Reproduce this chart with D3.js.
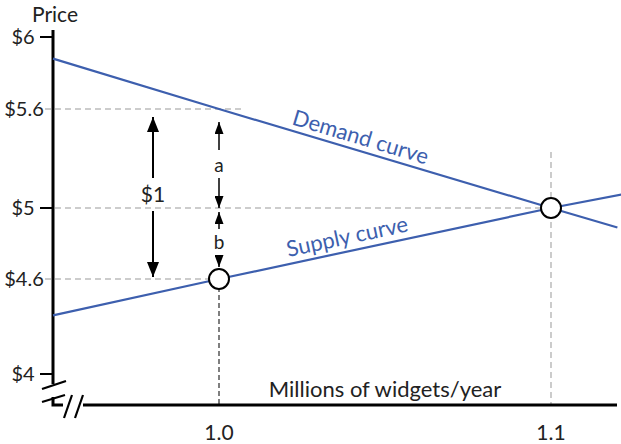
<!DOCTYPE html>
<html>
<head>
<meta charset="utf-8">
<script src="https://cdn.jsdelivr.net/npm/d3@7"></script>
<style>
  html, body { margin: 0; padding: 0; background: #fff; }
  svg { display: block; }
  text { font-family: Lato, "Open Sans", sans-serif; }
</style>
</head>
<body>
<svg id="chart" width="621" height="444"></svg>
<script>
// ---- data ----
const demandQuantity = [0.95, 1.0, 1.1, 1.12];
const demandPrice    = [5.88, 5.6, 5.0, 4.89];
const supplyQuantity = [0.95, 1.0, 1.1, 1.122];
const supplyPrice    = [4.37, 4.6, 5.0, 5.085];
const priceTicks      = [4, 4.6, 5, 5.6, 6];
const priceTickLabels = ["$4", "$4.6", "$5", "$5.6", "$6"];
const quantityTicks      = [1.0, 1.1];
const quantityTickLabels = ["1.0", "1.1"];
const equilibriumQuantity = [1.0, 1.1];
const equilibriumPrice    = [4.6, 5.0];

// ---- setup ----
const svg = d3.select("#chart");
const x = d3.scaleLinear().domain([1.0, 1.1]).range([219, 551]);
const y = d3.scaleLinear().domain([4, 4.6, 5, 5.6, 6]).range([374, 279, 208, 109, 37]);
const axisX = 53, axisBottom = 405;
const blue = "#3d5fae";
const ink = "#222";

// arrow markers
const defs = svg.append("defs");
function marker(id, w, l) {
  defs.append("marker").attr("id", id)
    .attr("viewBox", `0 0 ${l} ${w}`).attr("refX", l).attr("refY", w / 2)
    .attr("markerWidth", l).attr("markerHeight", w).attr("markerUnits", "userSpaceOnUse")
    .attr("orient", "auto-start-reverse")
    .append("path").attr("d", `M0,0 L${l},${w/2} L0,${w} Z`).attr("fill", "#000");
}
marker("big", 12, 15);
marker("small", 9, 12);

// ---- dashed guide lines ----
const guides = svg.append("g");
guides.append("line").attr("x1", 45).attr("x2", 243).attr("y1", y(5.6)).attr("y2", y(5.6))
  .attr("stroke", "#999").attr("stroke-width", 1.2).attr("stroke-dasharray", "6,4");
guides.append("line").attr("x1", axisX + 2).attr("x2", x(1.1)).attr("y1", y(5)).attr("y2", y(5))
  .attr("stroke", "#999").attr("stroke-width", 1.2).attr("stroke-dasharray", "6,4");
guides.append("line").attr("x1", 45).attr("x2", x(1.0)).attr("y1", y(4.6)).attr("y2", y(4.6))
  .attr("stroke", "#999").attr("stroke-width", 1.2).attr("stroke-dasharray", "6,4");
guides.append("line").attr("x1", x(1.1)).attr("x2", x(1.1)).attr("y1", 152).attr("y2", axisBottom)
  .attr("stroke", "#aaa").attr("stroke-width", 1.2).attr("stroke-dasharray", "6,4");
guides.append("line").attr("x1", x(1.0)).attr("x2", x(1.0)).attr("y1", y(4.6)).attr("y2", axisBottom)
  .attr("stroke", "#555").attr("stroke-width", 1.5).attr("stroke-dasharray", "5,3");

// ---- axes ----
const ax = svg.append("g").attr("stroke", "#000").attr("fill", "none");
ax.append("line").attr("x1", axisX).attr("x2", axisX).attr("y1", 30).attr("y2", 384).attr("stroke-width", 3);
ax.append("path").attr("d", `M${axisX},397 L${axisX},${axisBottom} L63,${axisBottom}`).attr("stroke-width", 3);
ax.append("line").attr("x1", 83).attr("x2", 617).attr("y1", axisBottom).attr("y2", axisBottom).attr("stroke-width", 3);
// break marks
ax.append("line").attr("x1", 42).attr("y1", 389).attr("x2", 66).attr("y2", 381).attr("stroke-width", 2.2);
ax.append("line").attr("x1", 42).attr("y1", 402).attr("x2", 65).attr("y2", 395).attr("stroke-width", 2.2);
ax.append("line").attr("x1", 64).attr("y1", 418).attr("x2", 72).attr("y2", 395).attr("stroke-width", 2.2);
ax.append("line").attr("x1", 75).attr("y1", 418).attr("x2", 83).attr("y2", 395).attr("stroke-width", 2.2);

// y ticks
priceTicks.forEach((p, i) => {
  const isMajor = Number.isInteger(p);
  if (isMajor) {
    svg.append("line").attr("x1", 40).attr("x2", axisX).attr("y1", y(p)).attr("y2", y(p))
      .attr("stroke", "#000").attr("stroke-width", 2);
  }
  svg.append("text").attr("x", isMajor ? 23 : 24).attr("y", y(p)).attr("dy", "0.35em")
    .attr("text-anchor", "middle").attr("font-size", 20).attr("fill", ink)
    .text(priceTickLabels[i]);
});
// x tick labels
quantityTicks.forEach((q, i) => {
  svg.append("text").attr("x", x(q)).attr("y", 440).attr("text-anchor", "middle")
    .attr("font-size", 21).attr("fill", ink).text(quantityTickLabels[i]);
});
svg.append("text").attr("x", axisX + 2).attr("y", 22).attr("text-anchor", "middle")
  .attr("font-size", 21).attr("fill", ink).text("Price");
svg.append("text").attr("x", 385).attr("y", 397).attr("text-anchor", "middle")
  .attr("font-size", 22).attr("fill", ink).text("Millions of widgets/year");

// ---- curves ----
const line = d3.line().x(d => x(d[0])).y(d => y(d[1]));
svg.append("path").datum(d3.zip(demandQuantity, demandPrice)).attr("d", line)
  .attr("fill", "none").attr("stroke", blue).attr("stroke-width", 2.2);
svg.append("path").datum(d3.zip(supplyQuantity, supplyPrice)).attr("d", line)
  .attr("fill", "none").attr("stroke", blue).attr("stroke-width", 2.2);

// curve labels
function curveLabel(q0, p0, q1, p1, t, txt, off) {
  const xa = x(q0), ya = y(p0), xb = x(q1), yb = y(p1);
  const cx = xa + (xb - xa) * t, cy = ya + (yb - ya) * t;
  const ang = Math.atan2(yb - ya, xb - xa) * 180 / Math.PI;
  svg.append("text").attr("transform", `translate(${cx},${cy}) rotate(${ang})`)
    .attr("y", off).attr("text-anchor", "middle").attr("font-size", 22)
    .attr("fill", blue).text(txt);
}
curveLabel(1.0, 5.6, 1.1, 5.0, 0.415, "Demand curve", -6);
curveLabel(1.0, 4.6, 1.1, 5.0, 0.395, "Supply curve", -7);

// ---- annotations ----
const ann = svg.append("g").attr("stroke", "#000").attr("stroke-width", 2);
const x1 = 153;
ann.append("line").attr("x1", x1).attr("x2", x1).attr("y1", 178).attr("y2", y(5.6) + 8).attr("marker-end", "url(#big)");
ann.append("line").attr("x1", x1).attr("x2", x1).attr("y1", 211).attr("y2", y(4.6) - 2).attr("marker-end", "url(#big)");
svg.append("text").attr("x", x1).attr("y", 195).attr("dy", "0.35em").attr("text-anchor", "middle")
  .attr("font-size", 21).attr("fill", ink).text("$1");

const xa = x(1.0);
ann.append("line").attr("x1", xa).attr("x2", xa).attr("y1", 150).attr("y2", y(5.6) + 13).attr("marker-end", "url(#small)").attr("stroke-width", 1.5);
ann.append("line").attr("x1", xa).attr("x2", xa).attr("y1", 178).attr("y2", y(5)).attr("marker-end", "url(#small)").attr("stroke-width", 1.5);
svg.append("text").attr("x", xa).attr("y", 165).attr("dy", "0.35em").attr("text-anchor", "middle")
  .attr("font-size", 19).attr("fill", ink).text("a");
ann.append("line").attr("x1", xa).attr("x2", xa).attr("y1", 229).attr("y2", y(5) + 4).attr("marker-end", "url(#small)").attr("stroke-width", 1.5);
ann.append("line").attr("x1", xa).attr("x2", xa).attr("y1", 256).attr("y2", y(4.6) - 12).attr("marker-end", "url(#small)").attr("stroke-width", 1.5);
svg.append("text").attr("x", xa).attr("y", 242).attr("dy", "0.35em").attr("text-anchor", "middle")
  .attr("font-size", 19).attr("fill", ink).text("b");

// ---- equilibrium points ----
svg.selectAll("circle.eq").data(d3.zip(equilibriumQuantity, equilibriumPrice)).join("circle")
  .attr("class", "eq").attr("cx", d => x(d[0])).attr("cy", d => y(d[1])).attr("r", 10)
  .attr("fill", "#fff").attr("stroke", "#000").attr("stroke-width", 2);
</script>
</body>
</html>
